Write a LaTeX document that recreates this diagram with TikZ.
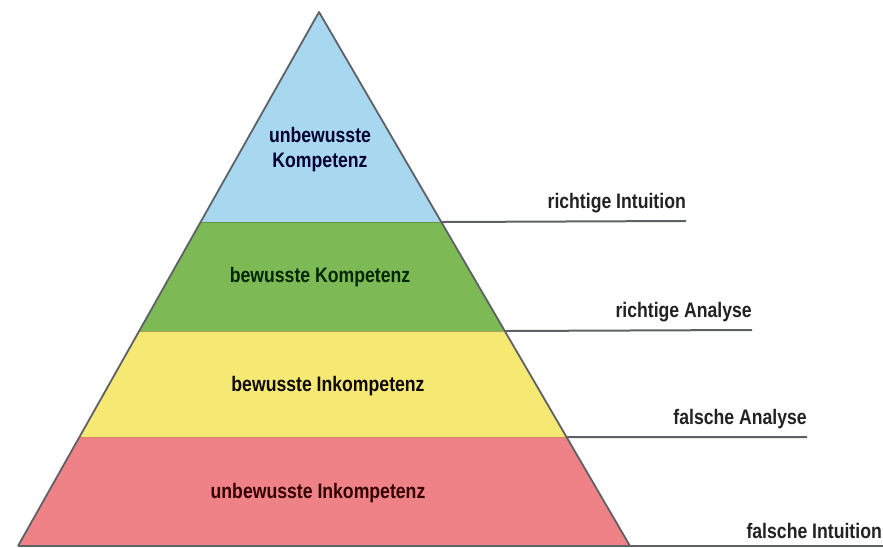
\documentclass[tikz,border=0pt]{standalone}
\usepackage{fontspec}
\newfontfamily\labfont[FakeStretch=0.84]{Liberation Sans Bold}
\usetikzlibrary{calc}
\definecolor{lblue}{HTML}{A8D8F0}
\definecolor{lgreen}{HTML}{7DB955}
\definecolor{lyellow}{HTML}{F5E873}
\definecolor{lred}{HTML}{EE8287}
\definecolor{edgegray}{HTML}{5E6266}
\definecolor{txt}{HTML}{222222}
\tikzset{
  layertext/.style={font=\labfont\fontsize{21}{25}\selectfont, text=txt, align=center, inner sep=0pt},
  sidetext/.style={font=\labfont\fontsize{21}{22}\selectfont, text=txt, anchor=south east, inner sep=0pt},
  guide/.style={draw=edgegray, line width=2pt},
  outline/.style={draw=edgegray, line width=1.8pt, line join=round}
}
\begin{document}
\begin{tikzpicture}[x=1pt,y=-1pt]
\useasboundingbox (0,0) rectangle (883,548);
\clip (0,0) rectangle (883,548);
\fill[white] (0,0) rectangle (883,548);
\coordinate (apex) at (319,12);
\coordinate (bl) at (18,546);
\coordinate (br) at (630,546);
\coordinate (l1) at ($(apex)!0.3933!(bl)$);
\coordinate (r1) at ($(apex)!0.3933!(br)$);
\coordinate (l2) at ($(apex)!0.5974!(bl)$);
\coordinate (r2) at ($(apex)!0.5974!(br)$);
\coordinate (l3) at ($(apex)!0.7959!(bl)$);
\coordinate (r3) at ($(apex)!0.7959!(br)$);
% layers
\fill[lblue] (apex) -- (r1) -- (l1) -- cycle;
\fill[lgreen] (l1) -- (r1) -- (r2) -- (l2) -- cycle;
\fill[lyellow] (l2) -- (r2) -- (r3) -- (l3) -- cycle;
\fill[lred] (l3) -- (r3) -- (br) -- (bl) -- cycle;
\draw[lgreen!80!black, line width=0.8pt] (l1) -- (r1);
\draw[lyellow!70!black, line width=0.8pt] (l2) -- (r2);
\draw[lred!60!brown, line width=0.8pt] (l3) -- (r3);
\draw[outline] (bl) -- (apex) -- (br);
% guide lines
\coordinate (e1) at (686,221);
\coordinate (e2) at (752,330);
\coordinate (e3) at (807,437);
\coordinate (e4) at (883,546);
\draw[guide] (r1) -- (e1);
\draw[guide] (r2) -- (e2);
\draw[guide] (r3) -- (e3);
\draw[guide] (bl) -- (e4);
% side labels
\node[sidetext] (s1) at ($(e1)+(0,-8)$) {richtige Intuition};
\node[sidetext] (s2) at ($(e2)+(0,-8)$) {richtige Analyse};
\node[sidetext] (s3) at ($(e3)+(0,-8)$) {falsche Analyse};
\node[sidetext] (s4) at ($(e4)+(-1,-7)$) {falsche Intuition};
% layer labels
\node[layertext, text=black!80!blue] (t1) at (320,150) {unbewusste\\Kompetenz};
\node[layertext, text=black!85!green] (t2) at (320,277) {bewusste Kompetenz};
\node[layertext, text=black!92!brown] (t3) at (328,386) {bewusste Inkompetenz};
\node[layertext, text=black!80!red] (t4) at (318,493) {unbewusste Inkompetenz};
\end{tikzpicture}
\end{document}
